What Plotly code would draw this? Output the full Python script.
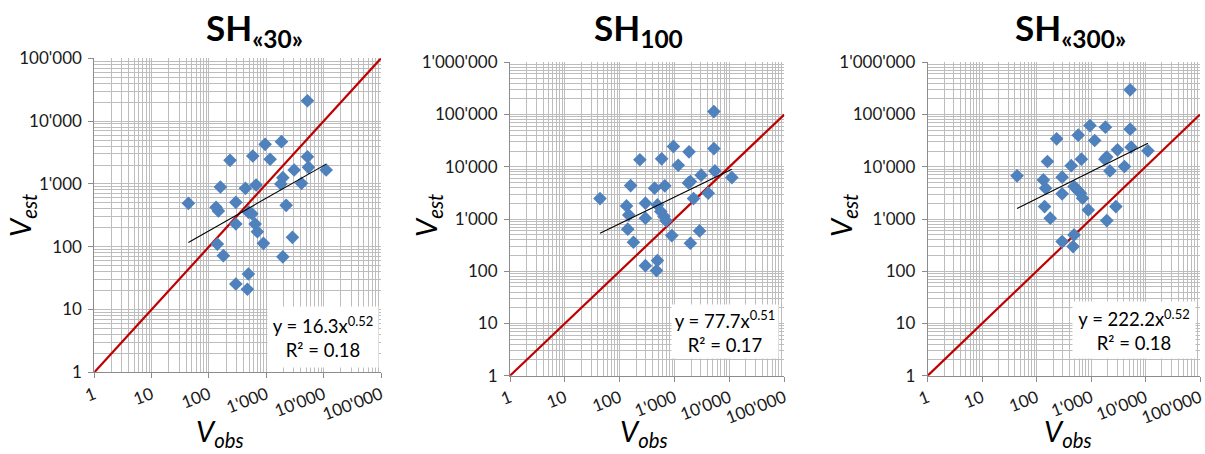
import plotly.graph_objects as go

# ---------------- data ----------------
v_obs = [5210, 953, 1835, 581, 1165, 233, 5210, 5430, 3055, 11060, 1941, 1791, 4100,
         158, 432, 664, 43.7, 133, 146, 294, 2217, 487, 560, 294, 638, 699, 890, 140,
         2853, 178, 1941, 487, 294, 468]
v_est_sh30 = [21100, 4270, 4700, 2780, 2465, 2375, 2710, 1838, 1665, 1665, 1256, 996, 1022,
              893, 851, 960, 491, 424, 370, 509, 456, 355, 335, 230, 230, 173, 113, 110,
              141, 72, 69, 36.7, 25.5, 21]
v_est_sh100 = [114000, 24400, 19300, 14200, 10700, 13600, 22300, 8340, 6900, 6210, 5200, 4900, 3120,
               4360, 3890, 4310, 2460, 1783, 1198, 2010, 2460, 1860, 1390, 1036, 1130, 930, 481, 638,
               592, 359, 344, 160, 128, 103]
v_est_sh300 = [297000, 61500, 57400, 40300, 31800, 34200, 52500, 23700, 21100, 20200, 15300, 14000, 10100,
               12600, 10500, 14000, 6700, 5610, 3890, 6320, 8340, 4180, 3600, 3030, 3120, 2500, 1494, 1729,
               1729, 1036, 932, 496, 369, 296]

panel_titles = ["SH<sub>«30»</sub>", "SH<sub>100</sub>", "SH<sub>«300»</sub>"]
fit_a = [16.3, 77.7, 222.2]
fit_b = [0.52, 0.51, 0.52]
fit_r2 = [0.18, 0.17, 0.18]
y_max_exp = [5, 6, 6]
x_max_exp = 5
one_to_one = [1, 100000]

series = [v_est_sh30, v_est_sh100, v_est_sh300]

# ---------------- layout geometry (pixels) ----------------
W, H = 1205, 454
plot_px = [  # x0, x1, ytop, ybottom
    (94.3, 381.0, 58.3, 372.3),
    (510.0, 784.3, 62.3, 375.7),
    (927.7, 1200.0, 62.3, 375.7),
]
title_px = [(254, 30), (638, 30), (1070, 30)]
ylab_px = [(22, 216), (428, 216), (843, 216)]
xlab_px = [(220, 432), (644, 432), (1068, 432)]
box_px = [  # x0, x1, y0, y1
    (268, 378, 307, 367),
    (672, 778, 305, 358),
    (1073, 1195, 302, 358),
]

def px(x):
    return x / W

def py(y):
    return 1 - y / H

def fmt(v):
    return f"{v:,}".replace(",", "'")

BLUE = "#4F81BD"
RED = "#C00000"
GRID = "#BDBDBD"
AXIS = "#8C8C8C"
FONT = "Lato"

fig = go.Figure()

for i in range(3):
    sfx = "" if i == 0 else str(i + 1)
    xa, ya = "x" + sfx, "y" + sfx
    # 1:1 line
    fig.add_trace(go.Scatter(x=one_to_one, y=one_to_one, mode="lines",
                             line=dict(color=RED, width=2.2), xaxis=xa, yaxis=ya,
                             showlegend=False, hoverinfo="skip"))
    # data
    fig.add_trace(go.Scatter(x=v_obs, y=series[i], mode="markers",
                             marker=dict(symbol="diamond", size=10.5, color=BLUE,
                                         line=dict(width=0)),
                             xaxis=xa, yaxis=ya, showlegend=False))
    # power trend line
    xmin, xmax = min(v_obs), max(v_obs)
    fx = [xmin, xmax]
    fy = [fit_a[i] * v ** fit_b[i] for v in fx]
    fig.add_trace(go.Scatter(x=fx, y=fy, mode="lines", line=dict(color="black", width=1.1),
                             xaxis=xa, yaxis=ya, showlegend=False, hoverinfo="skip"))

    x0, x1, yt, yb = plot_px[i]
    major_x = [10 ** k for k in range(0, x_max_exp + 1)]
    minor_x = [m * 10 ** k for k in range(0, x_max_exp) for m in range(2, 10)]
    major_y = [10 ** k for k in range(0, y_max_exp[i] + 1)]
    minor_y = [m * 10 ** k for k in range(0, y_max_exp[i]) for m in range(2, 10)]

    xkey = "xaxis" + sfx
    ykey = "yaxis" + sfx
    fig.update_layout(**{
        xkey: dict(type="log", range=[0, x_max_exp], domain=[px(x0), px(x1)], anchor=ya,
                   automargin=False,
                   tickmode="array", tickvals=major_x, ticktext=[fmt(v) for v in major_x],
                   tickangle=-21, tickfont=dict(family=FONT, size=17, color="#1a1a1a"),
                   showgrid=True, gridcolor=GRID, gridwidth=1,
                   minor=dict(tickmode="array", tickvals=minor_x, showgrid=True,
                              gridcolor=GRID, gridwidth=1, ticks=""),
                   showline=True, linecolor=AXIS, linewidth=1, ticks="outside",
                   ticklen=5, tickcolor=AXIS, zeroline=False, fixedrange=True),
        ykey: dict(type="log", range=[0, y_max_exp[i]], domain=[py(yb), py(yt)], anchor=xa,
                   automargin=False,
                   tickmode="array", tickvals=major_y, ticktext=[fmt(v) for v in major_y],
                   tickfont=dict(family=FONT, size=17, color="#1a1a1a"),
                   showgrid=True, gridcolor=GRID, gridwidth=1,
                   minor=dict(tickmode="array", tickvals=minor_y, showgrid=True,
                              gridcolor=GRID, gridwidth=1, ticks=""),
                   showline=True, linecolor=AXIS, linewidth=1, ticks="outside",
                   ticklen=5, tickcolor=AXIS, ticklabelstandoff=3,
                   zeroline=False, fixedrange=True),
    })

    # title
    tx, ty = title_px[i]
    fig.add_annotation(x=px(tx), y=py(ty), xref="paper", yref="paper",
                       text="<b>" + panel_titles[i] + "</b>", showarrow=False,
                       xanchor="center", yanchor="middle",
                       font=dict(family=FONT, size=35, color="black"))
    # axis labels
    lx, ly = ylab_px[i]
    fig.add_annotation(x=px(lx), y=py(ly), xref="paper", yref="paper",
                       text="<i>V<sub>est</sub></i>", showarrow=False, textangle=-90,
                       xanchor="center", yanchor="middle",
                       font=dict(family=FONT, size=29, color="black"))
    lx, ly = xlab_px[i]
    fig.add_annotation(x=px(lx), y=py(ly), xref="paper", yref="paper",
                       text="<i>V<sub>obs</sub></i>", showarrow=False,
                       xanchor="center", yanchor="middle",
                       font=dict(family=FONT, size=29, color="black"))
    # equation box
    bx0, bx1, by0, by1 = box_px[i]
    fig.add_annotation(x=px((bx0 + bx1) / 2), y=py((by0 + by1) / 2), xref="paper", yref="paper",
                       text=f"y = {fit_a[i]}x<sup>{fit_b[i]}</sup><br>R² = {fit_r2[i]}",
                       showarrow=False, xanchor="center", yanchor="middle",
                       width=bx1 - bx0 - 2, height=by1 - by0 - 2, borderpad=1,
                       bgcolor="white", align="center",
                       font=dict(family=FONT, size=18.5, color="black"))

fig.update_layout(width=W, height=H, margin=dict(l=0, r=0, t=0, b=0),
                  paper_bgcolor="white", plot_bgcolor="white", showlegend=False)

fig.write_html("out.html")
